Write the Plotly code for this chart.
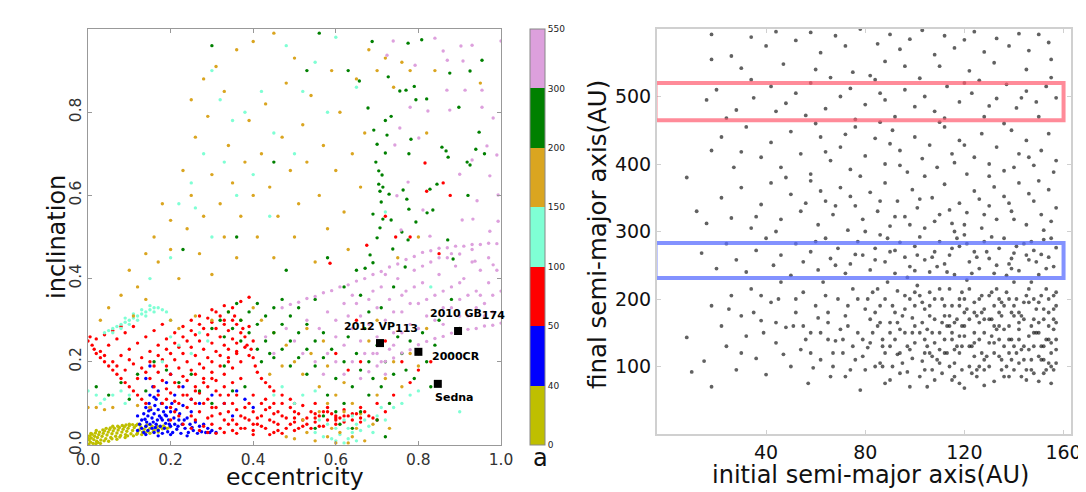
import plotly.graph_objects as go

# ---- left panel: eccentricity / inclination, coloured by final a ----
a_bounds = ["0", "40", "50", "100", "150", "200", "300", "550"]
band_colors = ["#bfbf00", "#0000ff", "#ff0000", "#7fffd4", "#daa520", "#008000", "#dda0dd"]

pts_0_40 = [(0.002,0.002),(0.003,0.012),(0.004,0.022),(0.006,0.007),(0.008,0.017),(0.010,0.026),(0.012,0.004),
    (0.014,0.013),(0.016,0.021),(0.018,0.029),(0.021,0.009),(0.023,0.018),(0.026,0.025),(0.028,0.031),(0.031,0.012),
    (0.034,0.021),(0.037,0.028),(0.040,0.034),(0.043,0.015),(0.046,0.024),(0.049,0.031),(0.052,0.037),(0.055,0.018),
    (0.058,0.027),(0.061,0.034),(0.064,0.040),(0.067,0.021),(0.070,0.029),(0.073,0.036),(0.076,0.042),(0.079,0.023),
    (0.082,0.031),(0.085,0.038),(0.088,0.044),(0.091,0.025),(0.094,0.033),(0.097,0.040),(0.100,0.046),(0.104,0.027),
    (0.108,0.035),(0.112,0.042),(0.116,0.047),(0.120,0.029),(0.124,0.036),(0.128,0.043),(0.132,0.031),(0.136,0.038),
    (0.140,0.044),(0.145,0.033),(0.150,0.040),(0.155,0.045),(0.160,0.035),(0.165,0.041),(0.170,0.037),(0.175,0.043),
    (0.180,0.039),(0.186,0.042),(0.192,0.040),(0.198,0.043),(0.03,0.004),(0.05,0.009),(0.07,0.014),(0.09,0.018),
    (0.11,0.022),(0.13,0.025),(0.15,0.028),(0.17,0.031),(0.02,0.035),(0.06,0.045),(0.1,0.05),(0.12,0.05),
    (0.001,0.016),(0.007,0.028),(0.019,0.003),(0.044,0.040),(0.083,0.047),(0.143,0.048),(0.183,0.046),
    (0.024,0.006),(0.039,0.010),(0.058,0.015),(0.077,0.019),(0.096,0.022),(0.118,0.026),(0.139,0.029),(0.158,0.032),
    (0.036,0.036),(0.054,0.041),(0.072,0.045),(0.092,0.048),(0.108,0.049),(0.126,0.049),(0.168,0.045)]

pts_40_50 = [(0.12,0.035),(0.125,0.05),(0.13,0.04),(0.13,0.06),(0.135,0.03),(0.135,0.075),(0.14,0.045),(0.14,0.09),
    (0.142,0.055),(0.145,0.035),(0.145,0.07),(0.148,0.1),(0.15,0.05),(0.15,0.12),(0.152,0.085),(0.155,0.04),
    (0.155,0.065),(0.157,0.14),(0.16,0.03),(0.16,0.075),(0.162,0.095),(0.165,0.05),(0.165,0.11),(0.168,0.06),
    (0.17,0.035),(0.17,0.085),(0.173,0.07),(0.175,0.045),(0.178,0.1),(0.18,0.028),(0.18,0.06),(0.183,0.08),
    (0.185,0.04),(0.188,0.052),(0.19,0.07),(0.19,0.09),(0.193,0.032),(0.195,0.06),(0.2,0.045),(0.2,0.08),
    (0.203,0.1),(0.205,0.03),(0.208,0.065),(0.21,0.05),(0.213,0.085),(0.215,0.038),(0.22,0.06),(0.222,0.075),
    (0.225,0.028),(0.228,0.05),(0.23,0.095),(0.235,0.04),(0.24,0.065),(0.243,0.03),(0.247,0.05),(0.25,0.08),
    (0.255,0.035),(0.26,0.055),(0.265,0.028),(0.27,0.045),(0.275,0.032),(0.28,0.05),(0.285,0.03),(0.29,0.04),
    (0.295,0.03),(0.3,0.035),(0.31,0.03),(0.14,0.16),(0.15,0.19),(0.17,0.13),(0.19,0.15),(0.21,0.12),(0.23,0.14),
    (0.2,0.17),(0.25,0.11),(0.27,0.1),(0.3,0.12),(0.33,0.1),(0.36,0.13),(0.38,0.11),(0.35,0.07),(0.4,0.09),
    (0.17,0.022),(0.2,0.025),(0.24,0.022),(0.14,0.025),(0.16,0.115),(0.12,0.07),(0.138,0.062),(0.147,0.082),
    (0.158,0.055),(0.163,0.042),(0.177,0.065),(0.187,0.072),(0.197,0.05),(0.218,0.045),(0.233,0.06),(0.252,0.042)]

pts_50_100 = [(0.0,0.25),(0.005,0.26),(0.01,0.24),(0.015,0.23),(0.02,0.22),(0.03,0.21),(0.04,0.2),(0.05,0.19),
    (0.06,0.18),(0.07,0.17),(0.08,0.16),(0.09,0.15),(0.1,0.14),(0.11,0.13),(0.12,0.12),(0.13,0.11),(0.14,0.1),
    (0.15,0.09),(0.02,0.255),(0.04,0.265),(0.06,0.275),(0.08,0.285),
    (0.03,0.225),(0.05,0.24),(0.07,0.255),(0.09,0.27),(0.11,0.285),
    (0.06,0.2),(0.08,0.215),(0.1,0.23),(0.12,0.245),(0.14,0.26),(0.16,0.275),(0.18,0.29),
    (0.09,0.18),(0.11,0.195),(0.13,0.21),(0.15,0.225),(0.17,0.24),(0.19,0.255),(0.21,0.27),(0.23,0.285),(0.25,0.3),
    (0.12,0.16),(0.14,0.175),(0.16,0.19),(0.18,0.205),(0.2,0.22),(0.22,0.235),(0.24,0.25),(0.26,0.265),(0.28,0.28),
    (0.3,0.295),(0.32,0.31),(0.16,0.14),(0.18,0.155),(0.2,0.17),(0.22,0.185),(0.24,0.2),(0.26,0.215),(0.28,0.23),
    (0.3,0.245),(0.32,0.26),(0.34,0.275),(0.36,0.29),(0.2,0.125),(0.22,0.14),(0.24,0.155),(0.26,0.17),(0.28,0.185),
    (0.3,0.2),(0.32,0.215),(0.34,0.23),(0.36,0.245),(0.38,0.26),(0.25,0.11),(0.27,0.125),(0.29,0.14),(0.31,0.155),
    (0.33,0.17),(0.35,0.185),(0.37,0.2),(0.39,0.215),(0.4,0.21),(0.405,0.19),(0.41,0.175),(0.42,0.16),(0.43,0.15),
    (0.44,0.14),(0.45,0.13),(0.47,0.12),(0.49,0.11),(0.35,0.33),(0.37,0.345),(0.39,0.355),(0.3,0.325),(0.27,0.31),
    (0.33,0.3),(0.355,0.31),(0.375,0.28),(0.385,0.24),(0.395,0.23),(0.36,0.22),(0.34,0.2),
    (0.04,0.215),(0.07,0.19),(0.1,0.205),(0.13,0.185),(0.15,0.2),(0.17,0.215),(0.19,0.23),(0.21,0.245),(0.23,0.26),
    (0.25,0.275),(0.27,0.29),(0.29,0.305),(0.31,0.32),(0.33,0.335),(0.15,0.16),(0.17,0.175),(0.19,0.19),(0.21,0.205),
    (0.23,0.22),(0.25,0.235),(0.27,0.25),(0.29,0.265),(0.31,0.28),(0.33,0.29),(0.35,0.3),(0.19,0.135),(0.21,0.15),
    (0.23,0.165),(0.25,0.18),(0.27,0.195),(0.29,0.21),(0.31,0.225),(0.33,0.24),(0.35,0.255),(0.37,0.27),(0.39,0.285),
    (0.24,0.12),(0.26,0.14),(0.28,0.16),(0.3,0.175),(0.32,0.19),(0.34,0.21),(0.36,0.225),(0.38,0.235),(0.4,0.25),
    (0.18,0.1),(0.2,0.09),(0.22,0.07),(0.24,0.09),(0.26,0.06),(0.27,0.08),(0.28,0.1),(0.3,0.05),(0.3,0.07),
    (0.31,0.09),(0.32,0.04),(0.33,0.06),(0.34,0.08),(0.35,0.1),(0.35,0.035),(0.36,0.05),(0.37,0.07),(0.38,0.09),
    (0.38,0.04),(0.39,0.06),(0.4,0.08),(0.4,0.035),(0.41,0.05),(0.42,0.1),(0.42,0.07),(0.43,0.04),(0.44,0.06),
    (0.44,0.09),(0.45,0.03),(0.46,0.05),(0.46,0.08),(0.47,0.1),(0.48,0.04),(0.48,0.065),(0.49,0.09),(0.5,0.035),
    (0.5,0.055),(0.51,0.075),(0.52,0.045),(0.52,0.095),(0.53,0.065),(0.54,0.04),(0.54,0.08),(0.55,0.055),
    (0.56,0.07),(0.57,0.045),(0.58,0.06),(0.59,0.075),(0.6,0.05),(0.61,0.065),(0.62,0.055),(0.63,0.07),(0.64,0.06),
    (0.66,0.065),(0.68,0.07),(0.7,0.06),(0.72,0.08),(0.23,0.05),(0.25,0.04),(0.27,0.035),(0.29,0.03),(0.31,0.028),
    (0.33,0.03),(0.36,0.028),(0.4,0.025),(0.44,0.025),(0.47,0.028),(0.29,0.11),(0.32,0.12),(0.36,0.12),(0.4,0.12),
    (0.43,0.11),(0.45,0.1),(0.5,0.1),(0.55,0.1),(0.58,0.09),(0.62,0.085),(0.66,0.09),(0.7,0.1),(0.74,0.12),
    (0.2,0.06),(0.21,0.08),(0.22,0.1),(0.25,0.07),(0.26,0.1),(0.28,0.045),(0.29,0.065),(0.3,0.09),(0.32,0.075),
    (0.33,0.1),(0.34,0.05),(0.36,0.085),(0.37,0.04),(0.38,0.065),(0.39,0.1),(0.41,0.065),(0.42,0.045),(0.43,0.085),
    (0.45,0.055),(0.46,0.035),(0.47,0.07),(0.49,0.05),(0.5,0.08),(0.51,0.04),(0.53,0.05),(0.55,0.075),(0.56,0.045),
    (0.58,0.08),(0.6,0.065),(0.62,0.07),(0.64,0.075),(0.66,0.055),(0.67,0.08),(0.69,0.065),(0.35,0.06),(0.4,0.05),
    (0.45,0.075),(0.5,0.065),(0.55,0.065),(0.6,0.06),
    (0.78,0.15),(0.76,0.2),(0.8,0.18),(0.83,0.2),(0.72,0.25),(0.63,0.18),(0.6,0.22),(0.65,0.3),(0.66,0.2),
    (0.17,0.12),(0.19,0.11),(0.21,0.105),(0.23,0.12),(0.26,0.13),(0.28,0.15),(0.3,0.16),(0.33,0.14),(0.35,0.15),
    (0.37,0.16),(0.34,0.12),(0.31,0.13),(0.816,0.678),(0.86,0.63),(0.82,0.61),(0.877,0.6),(0.72,0.55),
    (0.745,0.5),(0.675,0.48),(0.78,0.5),(0.85,0.46),(0.586,0.437),(0.52,0.06),(0.57,0.08),(0.6,0.07),(0.65,0.075)]

pts_100_150 = [(0.04,0.27),(0.05,0.275),(0.06,0.28),(0.07,0.285),(0.08,0.29),(0.09,0.295),(0.1,0.3),(0.11,0.305),
    (0.12,0.31),(0.13,0.315),(0.14,0.32),(0.15,0.325),(0.16,0.33),(0.17,0.33),(0.18,0.325),(0.19,0.32),(0.06,0.27),
    (0.08,0.28),(0.1,0.29),(0.12,0.3),(0.14,0.31),(0.16,0.32),(0.13,0.325),(0.11,0.315),(0.09,0.305),(0.15,0.335),
    (0.0,0.13),(0.02,0.12),(0.04,0.11),(0.06,0.12),(0.08,0.13),(0.1,0.12),(0.03,0.1),(0.09,0.1),
    (0.2,0.26),(0.22,0.24),(0.25,0.22),(0.18,0.2),(0.27,0.27),(0.29,0.25),(0.32,0.3),(0.2,0.3),
    (0.55,0.03),(0.57,0.02),(0.58,0.05),(0.6,0.01),(0.6,0.04),(0.61,0.025),(0.62,0.005),(0.62,0.06),(0.63,0.015),
    (0.63,0.04),(0.64,0.03),(0.65,0.05),(0.65,0.01),(0.66,0.035),(0.67,0.06),(0.68,0.045),(0.7,0.07),(0.72,0.06),
    (0.74,0.09),(0.76,0.1),(0.78,0.12),(0.8,0.13),(0.45,0.12),(0.5,0.1),(0.52,0.12),(0.47,0.14),(0.55,0.13),
    (0.3,0.9),(0.32,0.83),(0.35,0.78),(0.38,0.8),(0.42,0.85),(0.45,0.75),(0.28,0.7),(0.33,0.68),(0.25,0.63),
    (0.22,0.58),(0.36,0.6),(0.44,0.55),(0.4,0.65),(0.5,0.7),(0.55,0.92),(0.6,0.98),(0.48,0.96),(0.2,0.45),
    (0.15,0.4),(0.3,0.5),(0.26,0.57),(0.52,0.85),(0.58,0.8),(0.65,0.86),(0.72,0.56),(0.83,0.38),(0.88,0.22),
    (0.9,0.08),(0.59,0.015),(0.64,0.07),(0.69,0.03),(0.71,0.09),(0.56,0.06)]

pts_150_200 = [(0.1,0.42),(0.12,0.38),(0.14,0.46),(0.16,0.5),(0.17,0.44),(0.2,0.54),(0.2,0.47),(0.22,0.4),(0.24,0.52),
    (0.25,0.6),(0.27,0.46),(0.28,0.55),(0.3,0.41),(0.3,0.65),(0.32,0.58),(0.33,0.5),(0.34,0.72),(0.35,0.63),
    (0.36,0.45),(0.37,0.55),(0.38,0.68),(0.39,0.78),(0.4,0.6),(0.41,0.5),(0.42,0.7),(0.43,0.82),(0.44,0.62),
    (0.45,0.45),(0.46,0.55),(0.47,0.74),(0.48,0.87),(0.49,0.66),(0.5,0.5),(0.5,0.93),(0.51,0.58),(0.52,0.77),
    (0.53,0.68),(0.54,0.84),(0.55,0.44),(0.56,0.6),(0.57,0.72),(0.58,0.52),(0.59,0.9),(0.6,0.66),(0.61,0.8),
    (0.62,0.56),(0.63,0.47),(0.64,0.7),(0.65,0.88),(0.66,0.62),(0.67,0.75),(0.68,0.95),(0.7,0.9),(0.72,0.93),
    (0.74,0.86),(0.76,0.92),(0.78,0.9),(0.36,0.95),(0.28,0.88),(0.31,0.91),(0.4,0.97),(0.25,0.83),(0.26,0.74),
    (0.29,0.79),(0.45,0.99),(0.33,0.85),(0.23,0.66),(0.18,0.58),(0.14,0.35),(0.08,0.36),(0.05,0.33),(0.11,0.31),
    (0.03,0.3),(0.0,0.09),(0.02,0.09),(0.04,0.085),(0.06,0.09),(0.12,0.095),(0.15,0.09),(0.2,0.3),(0.22,0.28),
    (0.26,0.31),(0.3,0.3),(0.34,0.32),(0.37,0.3),(0.4,0.33),(0.42,0.3),(0.45,0.27),(0.48,0.24),(0.5,0.2),
    (0.52,0.17),(0.54,0.22),(0.56,0.14),(0.58,0.19),(0.6,0.12),(0.62,0.15),(0.64,0.1),(0.58,0.02),(0.6,0.005),
    (0.61,0.03),(0.62,0.08),(0.63,0.005),(0.64,0.02),(0.65,0.04),(0.66,0.075),(0.55,0.01),(0.53,0.03),(0.52,0.06),
    (0.5,0.015),(0.48,0.02),(0.67,0.01),(0.69,0.05),(0.7,0.12),(0.72,0.16),(0.74,0.2),(0.76,0.14),(0.78,0.22),
    (0.8,0.19),(0.82,0.28),(0.7,0.3),(0.68,0.25),(0.57,0.25),(0.53,0.28),(0.47,0.19),(0.44,0.17),(0.58,0.1),
    (0.56,0.08),(0.59,0.04),(0.73,0.04),(0.75,0.45),(0.8,0.5),(0.82,0.75),(0.84,0.9),(0.95,0.87)]

pts_200_300 = [(0.3,0.28),(0.32,0.3),(0.34,0.32),(0.36,0.34),(0.33,0.26),(0.35,0.28),(0.37,0.3),(0.39,0.32),(0.41,0.34),
    (0.37,0.25),(0.39,0.27),(0.41,0.29),(0.43,0.31),(0.45,0.33),(0.47,0.35),(0.41,0.23),(0.43,0.25),(0.45,0.27),
    (0.47,0.29),(0.49,0.31),(0.51,0.33),(0.45,0.21),(0.47,0.23),(0.49,0.25),(0.51,0.27),(0.53,0.29),(0.49,0.19),
    (0.51,0.21),(0.53,0.23),(0.55,0.25),(0.57,0.27),(0.53,0.17),(0.55,0.19),(0.57,0.21),(0.59,0.23),
    (0.58,0.12),(0.6,0.08),(0.6,0.16),(0.62,0.2),(0.62,0.1),(0.63,0.26),(0.64,0.14),(0.65,0.22),(0.66,0.08),
    (0.66,0.18),(0.67,0.28),(0.68,0.12),(0.68,0.2),(0.69,0.16),(0.7,0.24),(0.7,0.06),(0.71,0.14),(0.72,0.2),
    (0.72,0.02),(0.73,0.1),(0.74,0.17),(0.75,0.26),(0.76,0.22),(0.77,0.18),(0.78,0.25),(0.79,0.16),(0.8,0.22),
    (0.81,0.27),(0.82,0.2),(0.83,0.14),(0.84,0.24),(0.85,0.3),(0.64,0.04),(0.61,0.05),(0.57,0.07),(0.55,0.04),
    (0.688,0.97),(0.775,0.966),(0.808,0.974),(0.657,0.875),(0.727,0.885),(0.755,0.851),(0.77,0.853),(0.79,0.862),
    (0.794,0.83),(0.82,0.832),(0.678,0.81),(0.734,0.79),(0.72,0.78),(0.692,0.757),(0.724,0.745),(0.782,0.735),
    (0.7,0.723),(0.72,0.702),(0.777,0.7),(0.697,0.68),(0.704,0.659),(0.712,0.649),(0.704,0.627),(0.714,0.62),
    (0.729,0.603),(0.707,0.61),(0.763,0.613),(0.772,0.591),(0.71,0.584),(0.777,0.567),(0.69,0.555),(0.714,0.543),
    (0.734,0.541),(0.707,0.522),(0.794,0.536),(0.7,0.498),(0.76,0.512),(0.775,0.493),(0.738,0.471),(0.683,0.457),
    (0.69,0.438),(0.671,0.425),(0.768,0.428),(0.845,0.627),(0.857,0.716),(0.867,0.707),(0.872,0.692),(0.918,0.68),
    (0.925,0.673),(0.954,0.925),(0.925,0.899),(0.898,0.812),(0.876,0.894),(0.947,0.752),(0.939,0.711),(0.835,0.565),
    (0.821,0.558),(0.871,0.493),(0.884,0.447),(0.828,0.615),(0.02,0.14),(0.05,0.12),(0.08,0.15),(0.1,0.11),
    (0.12,0.17),(0.14,0.13),(0.16,0.2),(0.19,0.18),(0.22,0.15),(0.25,0.17),(0.27,0.13),(0.3,0.1),(0.33,0.19),
    (0.35,0.13),(0.38,0.14),(0.42,0.2),(0.44,0.22),(0.3,0.96),(0.45,0.68),(0.53,0.9),(0.56,0.99),(0.63,0.9),
    (0.48,0.42),(0.58,0.45),(0.62,0.38),(0.55,0.35),(0.36,0.5),(0.23,0.47),(0.65,0.42),(0.88,0.35),(0.9,0.28),
    (0.92,0.6),(0.96,0.7),(0.66,0.36),(0.68,0.32),(0.74,0.38),(0.71,0.33)]

pts_300_550 = [(0.47,0.33),(0.49,0.338),(0.51,0.343),(0.53,0.352),(0.55,0.357),(0.57,0.366),(0.59,0.371),(0.61,0.38),
    (0.63,0.385),(0.65,0.394),(0.67,0.4),(0.69,0.41),(0.71,0.417),(0.73,0.428),(0.75,0.435),(0.77,0.446),
    (0.79,0.453),(0.81,0.463),(0.83,0.467),(0.85,0.473),(0.87,0.474),(0.89,0.478),(0.91,0.478),(0.93,0.482),
    (0.95,0.482),(0.97,0.485),(0.99,0.484),(0.66,0.16),(0.68,0.176),(0.7,0.19),(0.72,0.201),(0.74,0.209),
    (0.76,0.221),(0.78,0.229),(0.8,0.241),(0.82,0.249),(0.84,0.256),(0.86,0.261),(0.88,0.269),(0.9,0.271),
    (0.92,0.278),(0.94,0.28),(0.96,0.286),(0.98,0.288),(1.0,0.293),(0.56,0.28),(0.58,0.32),(0.6,0.26),(0.6,0.3),
    (0.62,0.34),(0.62,0.24),(0.64,0.28),(0.64,0.36),(0.66,0.31),(0.66,0.25),(0.68,0.35),(0.68,0.29),(0.7,0.33),
    (0.7,0.26),(0.71,0.38),(0.72,0.3),(0.73,0.35),(0.74,0.27),(0.75,0.4),(0.76,0.32),(0.77,0.37),(0.78,0.29),
    (0.79,0.42),(0.8,0.34),(0.81,0.39),(0.82,0.31),(0.83,0.44),(0.84,0.36),(0.85,0.41),(0.86,0.33),(0.87,0.45),
    (0.88,0.38),(0.89,0.43),(0.9,0.35),(0.91,0.4),(0.92,0.31),(0.93,0.44),(0.94,0.37),(0.95,0.42),(0.96,0.34),
    (0.97,0.39),(0.98,0.36),(0.99,0.42),(1.0,0.37),(0.72,0.41),(0.78,0.34),(0.84,0.3),(0.9,0.31),(0.96,0.31),
    (0.74,0.32),(0.8,0.28),(0.86,0.29),(0.67,0.22),(0.64,0.2),(0.62,0.17),(0.58,0.22),(0.6,0.2),(0.69,0.22),
    (0.76,0.27),(0.82,0.35),(0.88,0.33),(0.94,0.33),(0.98,0.32),(0.97,0.45),(0.93,0.47),(0.88,0.46),(0.9,0.39),
    (0.86,0.37),(0.95,0.36),(0.7,0.22),(0.71,0.2),(0.72,0.17),(0.73,0.23),(0.74,0.24),(1.0,0.971),(0.93,0.961),
    (0.903,0.959),(0.87,0.925),(0.908,0.923),(0.86,0.947),(0.954,0.853),(0.869,0.853),(0.913,0.853),(0.981,0.786),
    (0.954,0.812),(0.876,0.805),(0.823,0.803),(0.78,0.812),(0.755,0.762),(0.801,0.738),(0.743,0.721),(0.966,0.719),
    (0.99,0.697),(0.93,0.685),(0.9,0.651),(0.775,0.632),(0.973,0.647),(0.993,0.601),(0.942,0.587),(0.906,0.541),
    (0.932,0.543),(0.973,0.514),(0.993,0.538),(0.811,0.565),(0.748,0.599),(0.758,0.517),(0.828,0.502),(0.9,0.459),
    (0.937,0.442),(0.981,0.433),(0.739,0.971),(0.84,0.978),(0.792,0.913),(0.724,0.937),(0.5,0.25),(0.52,0.22),
    (0.55,0.2),(0.57,0.17),(0.48,0.28),(0.53,0.3),(0.45,0.22),(0.43,0.26),(0.65,0.34),(0.69,0.37),(0.63,0.31),
    (0.76,0.36),(0.81,0.43),(0.92,0.36),(0.85,0.45),(0.79,0.38)]

groups = [pts_0_40, pts_40_50, pts_50_100, pts_100_150, pts_150_200, pts_200_300, pts_300_550]

obj_names = ["2012 VP", "2000CR", "Sedna", "2010 GB"]
obj_subs = ["113", "", "", "174"]
obj_e = [0.707, 0.80, 0.847, 0.896]
obj_i = [0.245, 0.224, 0.147, 0.274]

# ---- right panel: initial vs final semi-major axis ----
a_pairs = [(18,592),(26,560),(34,588),(40,575),(44,596),(52,583),(58,595),(62,565),(68,590),(72,575),(78,600),
    (85,578),(90,592),(94,570),(98,585),(103,598),(108,562),(112,590),(116,572),(120,584),(124,596),(128,566),
    (133,586),(138,575),(142,593),(146,568),(150,592),(154,580),(18,555),(47,548),(60,540),(75,536),(88,552),
    (96,545),(110,545),(122,538),(132,550),(145,540),(155,555),(30,542),(82,531),
    (16,495),(20,510),(28,480),(35,498),(42,515),(48,490),(52,505),(58,520),(64,482),(70,500),(74,512),(80,488),
    (84,525),(88,495),(92,470),(96,510),(100,485),(104,500),(108,478),(113,515),(118,492),(123,505),(128,470),
    (133,497),(137,518),(141,483),(145,508),(149,492),(153,515),(157,498),(24,468),(56,472),(76,466),(112,468),
    (150,470),(34,525),(66,528),(102,527),(126,524),(155,528),(44,478),(86,505),(130,486),(143,498),(120,520),
    (8,380),(18,420),(22,440),(27,395),(32,455),(38,410),(42,432),(46,395),(50,448),(54,415),(58,385),(62,440),
    (66,405),(70,425),(74,392),(76,455),(80,412),(84,438),(88,400),(91,450),(94,420),(97,388),(100,440),(103,408),
    (106,428),(109,395),(112,455),(115,415),(118,435),(121,385),(124,410),(127,445),(130,400),(133,425),(136,390),
    (139,450),(142,415),(145,435),(148,398),(151,420),(154,445),(157,405),(60,460),(86,462),(110,462),(136,460),
    (64,418),(94,398),(120,428),(146,410),(30,418),(48,380),(78,382),(104,382),(130,382),(156,388),(140,395),
    (116,402),(90,430),(72,444),
    (12,330),(16,312),(22,350),(26,320),(30,365),(34,305),(38,340),(42,372),(46,318),(50,355),(54,330),(58,375),
    (61,310),(64,345),(67,325),(70,365),(73,302),(76,338),(79,318),(82,358),(85,330),(88,372),(90,308),(93,345),
    (96,322),(99,362),(101,335),(104,305),(107,350),(110,325),(112,370),(115,312),(118,342),(121,328),(124,360),
    (127,305),(130,338),(133,318),(136,352),(139,330),(142,372),(145,310),(148,345),(151,325),(154,362),(157,335),
    (44,300),(80,300),(116,300),(152,302),(98,310),(62,360),(86,345),(108,315),(126,348),(140,318),(150,375),
    (36,322),(56,342),(74,352),(92,322),(120,310),(132,366),(146,356),(102,348),(114,332),(128,325),(138,342),
    (155,315),(68,338),
    (14,268),(20,245),(24,282),(28,258),(32,240),(36,272),(40,290),(43,250),(46,265),(50,235),(52,282),(55,255),
    (58,270),(61,243),(64,290),(66,260),(69,275),(72,238),(74,252),(77,285),(79,265),(82,243),(84,275),(86,295),
    (88,255),(90,270),(92,238),(94,284),(96,262),(98,248),(100,278),(102,292),(104,258),(106,240),(108,270),
    (110,285),(112,252),(114,265),(116,236),(118,278),(120,295),(122,255),(124,270),(126,245),(128,285),(130,260),
    (132,238),(134,275),(136,290),(138,252),(140,268),(142,242),(144,282),(146,258),(148,272),(150,236),(152,288),
    (154,262),(156,248),(157,276),(101,265),(109,248),(117,290),(125,262),(133,250),(141,278),(149,255),(155,290),
    (113,240),(121,282),(129,270),(137,235),(145,265),(153,245),(84,258),(92,272),(100,242),(76,266),(68,250),
    (60,285),(107,262),(115,275),(123,238),(131,292),(139,260),(147,285),(97,232),(89,290),(139,245),(151,266),
    (8,143),(10,92),(15,108),(18,70),(18,190),(22,160),(24,130),(26,205),(28,95),(30,175),(32,145),(34,215),
    (36,112),(38,168),(40,88),(42,195),(44,135),(46,225),(48,158),(50,100),(52,180),(54,125),(55,210),(57,75),
    (58,150),(60,190),(62,110),(63,225),(65,165),(66,85),(68,138),(69,200),(71,120),(72,175),(74,95),(75,215),
    (77,150),(78,65),(80,185),(81,128),(83,210),(84,100),(86,165),(87,140),(89,225),(90,80),(91,190),(93,118),
    (94,155),(96,205),(97,92),(99,172),(100,135),(101,220),(103,108),(104,185),(105,70),(107,150),(108,200),
    (110,125),(111,90),(112,175),(114,215),(115,140),(116,105),(118,190),(119,160),(120,68),(121,228),(123,130),
    (124,180),(125,95),(127,205),(128,150),(129,115),(131,170),(132,78),(133,215),(134,140),(136,190),(137,100),
    (138,160),(140,225),(141,120),(142,180),(143,85),(145,205),(146,145),(147,110),(148,170),(150,195),(151,130),
    (152,90),(153,215),(154,160),(155,75),(156,185),(157,140),(157,105),
    (35,180),(39,150),(45,200),(47,118),(51,160),(56,140),(59,98),(61,172),(64,205),(67,120),(70,155),(73,190),
    (76,110),(79,140),(82,170),(85,215),(88,120),(90,150),(92,180),(95,105),(98,200),(100,160),(102,85),(104,140),
    (106,175),(109,110),(111,200),(113,160),(115,80),(117,130),(119,210),(120,145),(122,100),(124,195),(126,165),
    (128,72),(130,135),(132,190),(134,115),(135,175),(137,210),(139,140),(140,95),(142,155),(144,195),(145,80),
    (147,225),(148,130),(149,185),(151,110),(152,170),(154,200),(155,120),(156,155),(157,210),(153,95),(149,150),
    (143,125),(139,180),(133,155),(127,120),(121,185),(117,170),(113,120),(107,95),(103,165),(97,130),(93,212),
    (87,100),(83,150),(77,200),(71,140),(65,140),(58,120),(52,200),(44,165),(38,205),(30,120),(25,185),
    (110,150),(112,190),(114,100),(116,165),(118,120),(120,200),(122,170),(124,115),(126,140),(128,185),(130,100),
    (132,160),(134,200),(136,130),(138,85),(140,175),(142,140),(144,110),(146,195),(148,90),(150,150),(152,130),
    (154,180),(156,95),(105,130),(108,170),(96,150),(94,120),(91,100),(86,190),(99,112),(102,205),(106,120),
    (115,190),(119,95),(125,175),(131,210),(135,95),(141,200),(147,160),(153,140),(157,165),(150,78),(138,120),
    (128,95),(118,75),(108,80),(98,70),(88,75),(80,95),(72,85),
    (100,190),(104,120),(106,210),(110,105),(112,140),(114,175),(116,125),(118,200),(120,160),(122,130),(124,150),
    (126,200),(128,110),(130,170),(132,135),(134,180),(136,155),(138,200),(140,130),(142,105),(144,170),(146,125),
    (148,200),(150,165),(152,110),(154,140),(156,205),(157,125),(135,110),(145,95),(155,100),(125,85),(115,150),
    (105,155),(95,175),(90,130),(85,160),(75,130),(65,180),(55,160),
    (82,135),(84,180),(86,105),(88,200),(90,165),(92,140),(94,90),(96,185),(98,125),(100,210),(102,150),(104,95),
    (106,190),(108,135),(110,215),(112,120),(114,160),(116,85),(118,145),(120,180),(122,215),(124,135),(126,100),
    (128,170),(130,205),(132,120),(134,160),(136,85),(138,140),(140,190),(142,165),(144,130),(146,215),(148,150),
    (150,115),(152,185),(154,105),(156,170),(157,190),(155,135),(151,205),(147,95),(143,175),(139,110),(135,195),
    (131,145),(127,180),(123,90),(119,130),(111,165),(107,115),(103,195),(99,150),(93,165),(87,130),(81,200),
    (79,115),(73,160),(67,100),(62,150)]

red_band = (465, 520)
blue_band = (231, 283)

# the page body has an 8px margin, so the figure is drawn at (8, 8)
W, H = 1078, 484

fig = go.Figure()
for pts, col in zip(groups, band_colors):
    fig.add_trace(go.Scatter(x=[p[0] for p in pts], y=[p[1] for p in pts], mode="markers",
                             marker=dict(color=col, size=3.4), hoverinfo="skip", xaxis="x", yaxis="y"))

# colorbar only
n = len(band_colors)
cscale = []
for k, col in enumerate(band_colors):
    cscale += [[k / n, col], [(k + 1) / n, col]]
fig.add_trace(go.Scatter(x=[None], y=[None], mode="markers", xaxis="x", yaxis="y",
    marker=dict(color=[0], cmin=0, cmax=n, colorscale=cscale, showscale=True,
                colorbar=dict(x=522 / W, xanchor="left", y=1 - 437 / H, yanchor="bottom", len=416 / H,
                              lenmode="fraction", thickness=15, outlinecolor="#888", outlinewidth=1,
                              tickvals=list(range(n + 1)), ticktext=a_bounds, ticks="",
                              tickfont=dict(size=9, color="#222"), xpad=0, ypad=0))))

fig.add_trace(go.Scatter(x=obj_e, y=obj_i, mode="markers", xaxis="x", yaxis="y",
                         marker=dict(symbol="square", size=8, color="black"), hoverinfo="skip"))

fig.add_trace(go.Scatter(x=[p[0] for p in a_pairs], y=[p[1] for p in a_pairs], mode="markers",
                         marker=dict(color="rgba(0,0,0,0.62)", size=3.8), hoverinfo="skip",
                         xaxis="x2", yaxis="y2"))

for band, col in [(red_band, "rgba(255,90,110,0.7)"), (blue_band, "rgba(90,110,255,0.75)")]:
    fig.add_shape(type="rect", xref="x2", yref="y2", x0=-4.6, x1=160, y0=band[0], y1=band[1],
                  line=dict(color=col, width=4))

# object labels
lab_pos = [(0.615, 0.283), (0.828, 0.212), (0.835, 0.113), (0.823, 0.314)]
for name, sub, (lx, ly) in zip(obj_names, obj_subs, lab_pos):
    txt = "<b>" + name + "</b>"
    if sub:
        txt += "<sub><b><span style='font-size:11px'>" + sub + "</span></b></sub>"
    fig.add_annotation(x=lx, y=ly, xref="x", yref="y", text=txt, showarrow=False,
                       xanchor="left", yanchor="middle", font=dict(size=11, color="black"))

# titles as annotations (page px minus body margin)
titles = [("eccentricity", 287, 469, 0, 23.5), ("inclination", 49, 229, -90, 24), ("a", 532, 450, 0, 24),
          ("initial semi-major axis(AU)", 862, 467, 0, 24), ("final semi-major axis(AU)", 589, 227, -90, 24.5)]
for txt, px, py, ang, fs in titles:
    fig.add_annotation(x=px / W, y=1 - py / H, xref="paper", yref="paper", text=txt, showarrow=False,
                       textangle=ang, xanchor="center", yanchor="middle", font=dict(size=fs, color="#111"))

axis_common = dict(showline=True, mirror="allticks", ticks="inside", ticklen=4, showgrid=False,
                   zeroline=False, automargin=False)
fig.update_layout(
    width=W, height=H, margin=dict(l=0, r=0, t=0, b=0),
    paper_bgcolor="white", plot_bgcolor="white", showlegend=False,
    font=dict(family="DejaVu Sans", color="#222"),
    xaxis=dict(domain=[80 / W, 493 / W], range=[0, 1], tickvals=[0, 0.2, 0.4, 0.6, 0.8, 1.0],
               ticktext=["0.0", "0.2", "0.4", "0.6", "0.8", "1.0"], linecolor="#999", tickcolor="#999",
               tickfont=dict(size=15.5, color="#333"), **axis_common),
    yaxis=dict(domain=[1 - 437 / H, 1 - 21 / H], range=[0, 1], tickvals=[0, 0.2, 0.4, 0.6, 0.8],
               ticktext=["0.0", "0.2", "0.4", "0.6", "0.8"], tickangle=-90, linecolor="#999", tickcolor="#999",
               tickfont=dict(size=15.5, color="#333"), **axis_common),
    xaxis2=dict(domain=[649 / W, 1063 / W], range=[-4, 163], tickvals=[40, 80, 120, 160], anchor="y2",
                linecolor="#d0d0d0", tickcolor="#d0d0d0", linewidth=2, tickfont=dict(size=19, color="#111"),
                **axis_common),
    yaxis2=dict(domain=[1 - 426 / H, 1 - 21 / H], range=[0, 600], tickvals=[100, 200, 300, 400, 500],
                anchor="x2", linecolor="#d0d0d0", tickcolor="#d0d0d0", linewidth=2,
                tickfont=dict(size=19, color="#111"), **axis_common),
)

fig.write_html("out.html")
